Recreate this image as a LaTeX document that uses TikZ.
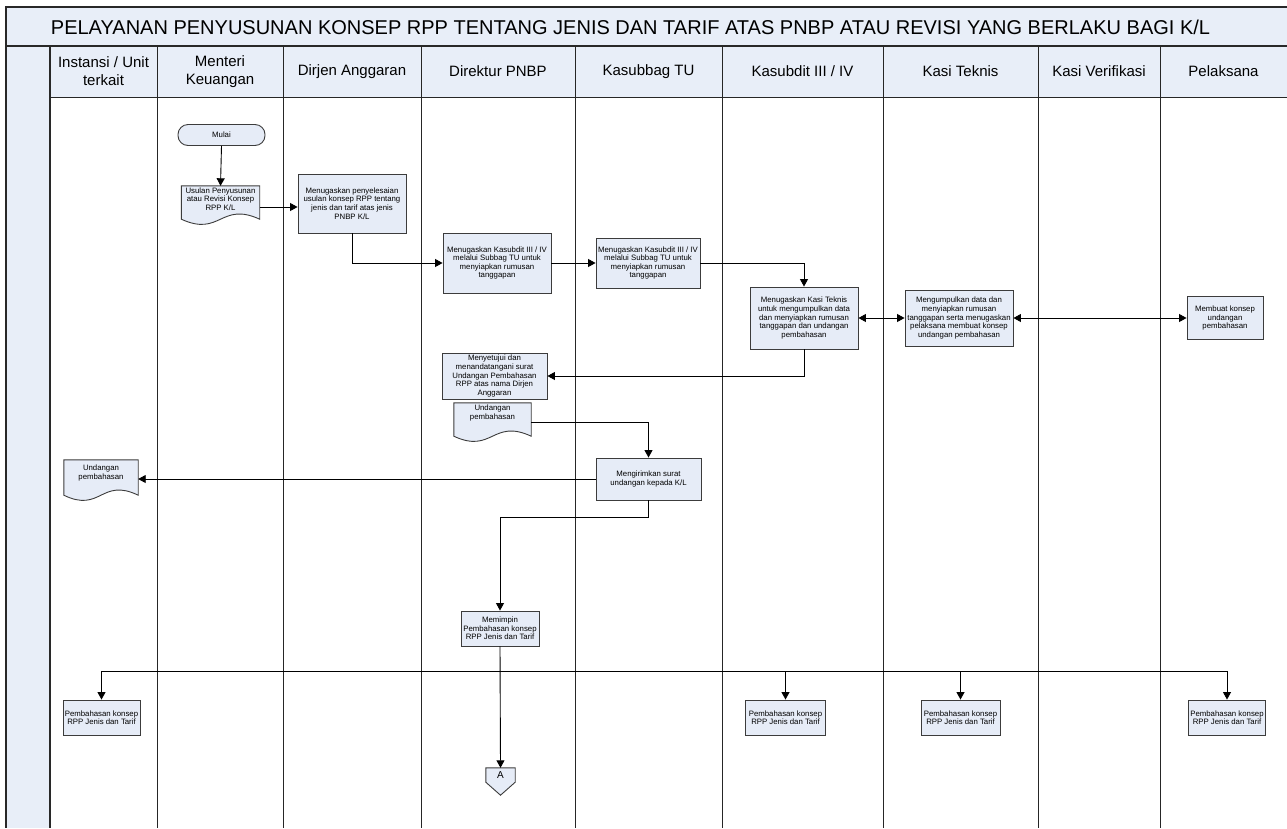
\documentclass[tikz,border=0pt]{standalone}
\usepackage{fontspec}
\setmainfont{Liberation Sans}
\usetikzlibrary{arrows.meta,calc}
\pgfdeclarelayer{bg}
\pgfsetlayers{bg,main}
\definecolor{lane}{RGB}{232,238,248}
\definecolor{boxfill}{RGB}{230,236,247}
\definecolor{boxline}{RGB}{60,60,60}
\definecolor{frameline}{RGB}{40,40,40}
\newcommand{\mydocshape}[2]{%
  \begin{pgfonlayer}{bg}
  \draw[docline] (#1.north west) -- (#1.north east) -- ($(#1.south east)+(0,#2)$)
    .. controls ($(#1.south)+(0,#2-18)$) and ($(#1.south)+(0,#2+18)$) .. ($(#1.south west)+(0,#2)$) -- cycle;
  \end{pgfonlayer}}
\begin{document}
\begin{tikzpicture}[x=1pt,y=-1pt,
  box/.style={draw=boxline, fill=boxfill, line width=0.9pt, align=center,
    font=\fontsize{7.8}{8.6}\selectfont, inner sep=1pt},
  docbox/.style={align=center, font=\fontsize{7.8}{8.6}\selectfont, inner sep=1pt},
  docline/.style={draw=boxline, fill=boxfill, line width=0.9pt},
  term/.style={box, rounded corners=10pt},
  head/.style={align=center, font=\fontsize{15}{18}\selectfont},
  frm/.style={draw=frameline, line width=1.1pt},
  lanel/.style={draw=black!85, line width=0.9pt},
  arr/.style={draw=black, line width=0.9pt, -{Triangle[length=7.5pt,width=8pt]}},
  darr/.style={draw=black, line width=0.9pt, {Triangle[length=7.5pt,width=8pt]}-{Triangle[length=7.5pt,width=8pt]}}]
\useasboundingbox (0,0) rectangle (1287,828);
% lane structure
\fill[lane] (6,7) rectangle (1287,46);
\fill[lane] (6,46) rectangle (50,828);
\fill[lane] (50,46) rectangle (1287,97);
\draw[frm] (1287,7) -- (6,7) -- (6,828);
\draw[frm] (6,46) -- (1287,46);
\draw[frm] (50,46) -- (50,828);
\draw[lanel] (50,97) -- (1287,97);
\foreach \x in {157,283,421,575,722,883,1038,1160} \draw[lanel] (\x,46) -- (\x,828);
% title and headers
\node[font=\fontsize{20}{24}\selectfont] (title) at (630.5,27) {PELAYANAN PENYUSUNAN KONSEP RPP TENTANG JENIS DAN TARIF ATAS PNBP ATAU REVISI YANG BERLAKU BAGI K/L};
\node[head] (h1) at (103.5,71.5) {Instansi / Unit\\terkait};
\node[head] (h2) at (220,71.5) {Menteri\\Keuangan};
\node[head] (h3) at (352,71.5) {Dirjen Anggaran};
\node[head] (h4) at (498,71.5) {Direktur PNBP};
\node[head] (h5) at (648.5,71.5) {Kasubbag TU};
\node[head] (h6) at (802.5,71.5) {Kasubdit III / IV};
\node[head] (h7) at (960.5,71.5) {Kasi Teknis};
\node[head] (h8) at (1099,71.5) {Kasi Verifikasi};
\node[head] (h9) at (1223.5,71.5) {Pelaksana};
% nodes
\node[term, minimum width=87pt, minimum height=21pt] (mulai) at (221.5,135) {Mulai};
\node[docbox, minimum width=78pt, minimum height=26pt] (doc1) at (220.5,199) {Usulan Penyusunan\\atau Revisi Konsep\\RPP K/L};
\mydocshape{doc1}{7}
\node[box, minimum width=108pt, minimum height=59pt] (dirjen) at (352,203.5) {Menugaskan penyelesaian\\usulan konsep RPP tentang\\jenis dan tarif atas jenis\\PNBP K/L};
\node[box, minimum width=108pt, minimum height=60pt] (dir1) at (497,263) {Menugaskan Kasubdit III / IV\\melalui Subbag TU untuk\\menyiapkan rumusan\\tanggapan};
\node[box, minimum width=104pt, minimum height=50pt] (kt1) at (648,263) {Menugaskan Kasubdit III / IV\\melalui Subbag TU untuk\\menyiapkan rumusan\\tanggapan};
\node[box, minimum width=108pt, minimum height=62pt] (ks1) at (804,318) {Menugaskan Kasi Teknis\\untuk mengumpulkan data\\dan menyiapkan rumusan\\tanggapan dan undangan\\pembahasan};
\node[box, minimum width=108pt, minimum height=56pt] (kte) at (959,318) {Mengumpulkan data dan\\menyiapkan rumusan\\tanggapan serta menugaskan\\pelaksana membuat konsep\\undangan pembahasan};
\node[box, minimum width=76pt, minimum height=43pt] (pel1) at (1225,318) {Membuat konsep\\undangan\\pembahasan};
\node[box, minimum width=105pt, minimum height=46pt] (dir2) at (494.5,376) {Menyetujui dan\\menandatangani surat\\Undangan Pembahasan\\RPP atas nama Dirjen\\Anggaran};
\node[docbox, minimum width=77pt, minimum height=20pt] (doc2) at (492.5,413) {Undangan\\pembahasan};
\mydocshape{doc2}{13}
\node[box, minimum width=105pt, minimum height=42pt] (kt2) at (648.5,479) {Mengirimkan surat\\undangan kepada K/L};
\node[docbox, minimum width=74pt, minimum height=26pt] (doc3) at (101,473) {Undangan\\pembahasan};
\mydocshape{doc3}{9}
\node[box, minimum width=78pt, minimum height=35pt] (mem) at (500,628.5) {Memimpin\\Pembahasan konsep\\RPP Jenis dan Tarif};
\node[font=\fontsize{10}{12}\selectfont, minimum width=29pt, minimum height=14pt, inner sep=0pt] (A) at (500.5,775) {A};
\begin{pgfonlayer}{bg}
\draw[docline] (A.north west) -- (A.north east) -- (A.south east) -- ($(A.south)+(0,13)$) -- (A.south west) -- cycle;
\end{pgfonlayer}
\node[box, minimum width=77pt, minimum height=35pt] (inst2) at (101.5,717.5) {Pembahasan konsep\\RPP Jenis dan Tarif};
\node[box, minimum width=80pt, minimum height=35pt] (ks2) at (785.5,717.5) {Pembahasan konsep\\RPP Jenis dan Tarif};
\node[box, minimum width=79pt, minimum height=35pt] (kte2) at (960.5,717.5) {Pembahasan konsep\\RPP Jenis dan Tarif};
\node[box, minimum width=77pt, minimum height=35pt] (pel2) at (1227,717.5) {Pembahasan konsep\\RPP Jenis dan Tarif};
% connectors
\draw[arr] (mulai.south) -- (doc1.north);
\coordinate (d1o) at ($(doc1.east)+(0,8)$);
\draw[arr] (d1o) -- (d1o -| dirjen.west);
\draw[arr] (dirjen.south) |- (dir1.west);
\draw[arr] (dir1.east) -- (kt1.west);
\draw[arr] (kt1.east) -| (ks1.north);
\draw[darr] (ks1.east) -- (ks1.east -| kte.west);
\draw[darr] (kte.east) -- (kte.east -| pel1.west);
\draw[arr] (ks1.south) |- (dir2.east);
\coordinate (d2o) at ($(doc2.east)+(0,9)$);
\draw[arr] (d2o) -| (kt2.north);
\draw[arr] (kt2.west) -- (kt2.west -| doc3.east);
\coordinate (k2b) at ($(kt2.south)+(0,17)$);
\draw[arr] (kt2.south) -- (k2b) -| (mem.north);
\draw[arr] (mem.south) -- (A.north);
\coordinate (br) at ($(mem.south)+(0,25)$);
\draw[arr] (br) -| (inst2.north);
\draw[arr] (br) -| (ks2.north);
\draw[arr] (br) -| (kte2.north);
\draw[arr] (br) -| (pel2.north);
\end{tikzpicture}
\end{document}
